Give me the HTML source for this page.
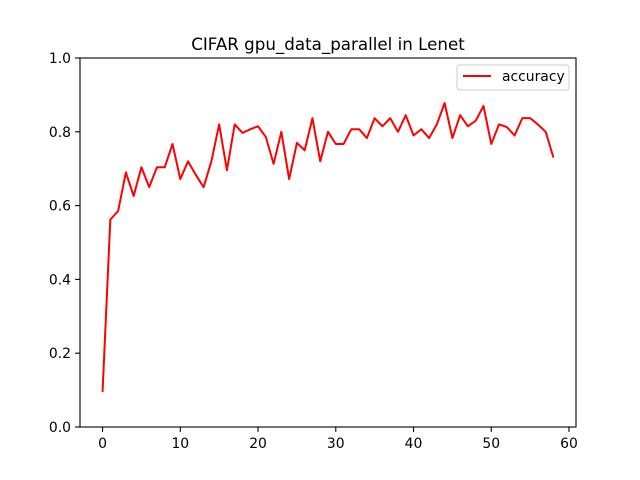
<!DOCTYPE html>
<html><head><meta charset="utf-8"><style>body{margin:0;background:#fff}svg{display:block;font-family:"DejaVu Sans","Liberation Sans",sans-serif}</style></head>
<body>
<svg id="chart" width="640" height="480"></svg>
<script>
const accuracy = [0.095,0.562,0.585,0.69,0.626,0.704,0.65,0.704,0.704,0.767,0.672,0.72,0.683,0.65,0.72,0.82,0.696,0.82,0.797,0.807,0.815,0.786,0.713,0.8,0.672,0.77,0.75,0.837,0.72,0.8,0.767,0.767,0.807,0.807,0.783,0.837,0.815,0.837,0.8,0.845,0.79,0.807,0.783,0.82,0.878,0.783,0.845,0.815,0.83,0.87,0.767,0.82,0.813,0.79,0.837,0.837,0.82,0.8,0.73];
const xTicks = [0,10,20,30,40,50,60];
const yTicks = [0.0,0.2,0.4,0.6,0.8,1.0];
const NS='http://www.w3.org/2000/svg';
const svg=document.getElementById('chart');
const L=80,R=576,T=58,B=427;
const xmin=-2.9,xmax=60.9;
const X=v=>L+(v-xmin)/(xmax-xmin)*(R-L);
const Y=v=>B-(v-0)/(1-0)*(B-T);
function el(t,a,txt){const e=document.createElementNS(NS,t);for(const k in a)e.setAttribute(k,a[k]);if(txt!==undefined)e.textContent=txt;svg.appendChild(e);return e;}
const t=el('text',{x:328,y:50,'text-anchor':'middle','font-size':16.7},'CIFAR gpu_data_parallel in Lenet');


xTicks.forEach(v=>{const x=X(v);
const l=el('line',{x1:x,x2:x,y1:B,y2:B+4.9,stroke:'#000','stroke-width':1.1});


const tx=el('text',{x:x,y:B+21,'text-anchor':'middle','font-size':13.9},String(v));

});
yTicks.forEach(v=>{const y=Y(v);
const l=el('line',{x1:L-4.9,x2:L,y1:y,y2:y,stroke:'#000','stroke-width':1.1});


const tx=el('text',{x:L-9,y:y+5,'text-anchor':'end','font-size':13.9},v.toFixed(1));

});
const p=el('polyline',{points:accuracy.map((v,i)=>X(i)+','+Y(v)).join(' '),fill:'none',stroke:'#ff0000','stroke-width':2,'stroke-linejoin':'round'});


const f=el('rect',{x:L,y:T,width:R-L,height:B-T,fill:'none',stroke:'#000','stroke-width':1.1});


const g=el('rect',{x:457,y:65,width:112,height:25,rx:3,fill:'#fff',stroke:'#ccc','stroke-width':1});


const gl=el('line',{x1:463,x2:491,y1:76,y2:76,stroke:'#ff0000','stroke-width':2});


const gt=el('text',{x:502,y:81,'font-size':13.9},'accuracy');


</script>
</body></html>
